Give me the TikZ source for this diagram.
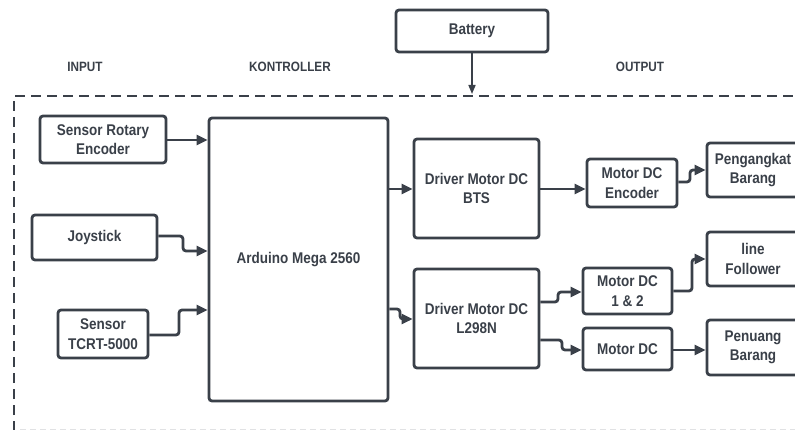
\documentclass[tikz,border=0pt]{standalone}
\usepackage{fontspec}
\setmainfont{Liberation Sans}[FakeStretch=0.87]
\usetikzlibrary{arrows.meta}
\definecolor{ink}{HTML}{3A4049}
\tikzset{
  box/.style={draw=ink, line width=2.8pt, rounded corners=3pt, fill=white,
    text=ink, font=\fontsize{15.5}{19.5}\selectfont\bfseries, align=center, inner sep=0pt},
  conn/.style={draw=ink, line width=2.8pt, rounded corners=3pt,
    -{Triangle[length=11pt,width=10pt]}},
  thin/.style={draw=ink, line width=1.6pt, -{Triangle[length=9pt,width=7pt]}},
  lbl/.style={text=ink, font=\fontsize{13.5}{16}\selectfont\bfseries},
  border/.style={draw=ink, line width=2.8pt, dash pattern=on 10pt off 6pt},
}
\begin{document}
\begin{tikzpicture}[x=1pt,y=-1pt]
\useasboundingbox (0,0) rectangle (795,430);
\clip (0,0) rectangle (795,430);
\fill[white] (0,0) rectangle (795,430);
% dashed frame
\draw[border] (14,431) -- (14,96) -- (800,96);
\draw[draw=ink!15, line width=1pt, dash pattern=on 6pt off 4pt] (20,429.5) -- (795,429.5);
% labels
\node[lbl] (lin) at (85,67) {INPUT};
\node[lbl] (lkt) at (290,67) {KONTROLLER};
\node[lbl] (lout) at (640,67) {OUTPUT};
% nodes
\node[box, minimum width=152pt, minimum height=42pt] (bat) at (472,31) {Battery};
\node[box, minimum width=126pt, minimum height=47pt] (sre) at (103,139.5) {Sensor Rotary\\Encoder};
\node[box, minimum width=125pt, minimum height=45pt] (joy) at (94.5,237.5) {Joystick};
\node[box, minimum width=90pt, minimum height=48pt] (tcrt) at (103,334) {Sensor\\TCRT-5000};
\node[box, minimum width=179pt, minimum height=283pt] (ard) at (298.5,259.5) {Arduino Mega 2560};
\node[box, minimum width=125pt, minimum height=99pt] (bts) at (476.5,188.5) {Driver Motor DC\\BTS};
\node[box, minimum width=125pt, minimum height=99pt] (l298) at (476.5,318.5) {Driver Motor DC\\L298N};
\node[box, minimum width=90pt, minimum height=48pt] (enc) at (632,183) {Motor DC\\Encoder};
\node[box, minimum width=89pt, minimum height=46pt] (m12) at (627.5,291) {Motor DC\\1 \& 2};
\node[box, minimum width=89pt, minimum height=42pt] (mdc) at (627.5,349) {Motor DC};
\node[box, minimum width=92pt, minimum height=54pt] (peng) at (753,170) {Pengangkat\\Barang};
\node[box, minimum width=92pt, minimum height=54pt] (lf) at (753,259) {line\\Follower};
\node[box, minimum width=92pt, minimum height=55pt] (pen) at (753,347.5) {Penuang\\Barang};
% battery arrow
\coordinate (batin) at (472,94);
\draw[thin] (bat.south) -- (batin);
% input connectors
\draw[conn] (sre.east |- 0,140) -- (ard.west |- 0,140);
\draw[conn] (joy.east |- 0,236) -- (183,236) -- (183,251) -- (ard.west |- 0,251);
\draw[conn] (tcrt.east |- 0,335) -- (179,335) -- (179,310) -- (ard.west |- 0,310);
% controller to drivers
\draw[conn] (ard.east |- 0,189) -- (bts.west |- 0,189);
\draw[conn] (ard.east |- 0,309) -- (400,309) -- (400,319) -- (l298.west |- 0,319);
% drivers to motors
\draw[conn] (bts.east |- 0,189) -- (enc.west |- 0,189);
\draw[conn] (l298.east |- 0,302) -- (558,302) -- (558,292) -- (m12.west |- 0,292);
\draw[conn] (l298.east |- 0,340) -- (562,340) -- (562,350) -- (mdc.west |- 0,350);
% motors to outputs
\draw[conn] (enc.east |- 0,182) -- (690,182) -- (690,170) -- (peng.west |- 0,170);
\draw[conn] (m12.east |- 0,291) -- (692,291) -- (692,259) -- (lf.west |- 0,259);
\draw[conn] (mdc.east |- 0,350) -- (pen.west |- 0,350);
\end{tikzpicture}
\end{document}
